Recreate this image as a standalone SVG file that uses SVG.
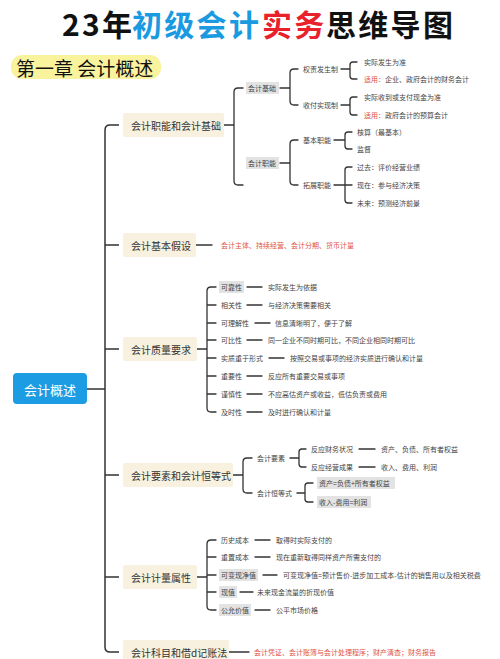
<svg xmlns="http://www.w3.org/2000/svg" width="500" height="659" viewBox="0 0 500 659">
<style>
text{font-family:"Noto Sans CJK SC","Noto Sans",sans-serif;dominant-baseline:central}
.tt{font-size:30px;font-weight:700;letter-spacing:2.3px;dominant-baseline:alphabetic}
.t1{font-size:10px;fill:#333}
.t2{font-size:7px;fill:#444}
.red{fill:#e0533f}
.box{fill:#f8f1df}
.hl{fill:#e3e3e3}
.ln{stroke:#333;stroke-width:1.3;fill:none;stroke-linecap:round}
.tr{stroke:#333;stroke-width:1.5;fill:none}
</style>
<rect width="500" height="659" fill="#fff"/>
<g id="title">
<text class="tt" x="62" y="36" fill="#111">23年</text>
<text class="tt" x="132" y="36" fill="#1a9ae0">初级会计</text>
<text class="tt" x="262" y="36" fill="#e8212a">实务</text>
<text class="tt" x="326" y="36" fill="#111">思维导图</text>
</g>
<g id="chapter">
<rect x="11" y="55" width="150" height="24" rx="11" fill="#faf39d"/>
<text x="16" y="67" font-size="19" fill="#111">第一章 会计概述</text>
</g>
<g id="connectors">
<path class="tr" d="M87 389H105M119 125H110Q105 125 105 130V647Q105 652 110 652H119M105 245H119M105 349H119M105 475H119M105 577H119"/>
<path class="ln" d="M224 125H234M243 88H238Q234 88 234 92V181Q234 185 238 185H243"/>
<path class="ln" d="M280 88H290M298 69H294Q290 69 290 73V101Q290 105 294 105H298"/>
<path class="ln" d="M341 69H350M357 62H353Q350 62 350 65V76Q350 79 353 79H357"/>
<path class="ln" d="M341 105H350M357 97H353Q350 97 350 100V112Q350 115 353 115H357"/>
<path class="ln" d="M280 163H290M298 140H294Q290 140 290 144V181Q290 185 294 185H298"/>
<path class="ln" d="M334 140H345M352 132H348Q345 132 345 135V146Q345 149 348 149H352"/>
<path class="ln" d="M334 185H352M352 167H348Q345 167 345 170V200Q345 203 348 203H352"/>
<path class="ln" d="M196 245H212"/>
<path class="ln" d="M197 349H207M216 287H211Q207 287 207 291V408Q207 412 211 412H216M207 305H216M207 323H216M207 340H216M207 358H216M207 376H216M207 394H216"/>
<path class="ln" d="M247 287H262M247 305H262M255 323H270M247 340H262M269 358H284M247 376H262M247 394H262M247 412H262"/>
<path class="ln" d="M233 475H243M252 458H247Q243 458 243 462V489Q243 493 247 493H252"/>
<path class="ln" d="M290 458H299M306 449H302Q299 449 299 452V464Q299 467 302 467H306M359 449H375M359 467H375"/>
<path class="ln" d="M297 493H305M313 483H308Q305 483 305 486V499Q305 502 308 502H313"/>
<path class="ln" d="M197 577H207M216 540H211Q207 540 207 544V606Q207 610 211 610H216M207 557H216M207 575H216M207 592H216"/>
<path class="ln" d="M255 540H270M255 557H270M263 575H277M240 592H253M255 610H270"/>
<path class="ln" d="M229 652H249"/>
</g>
<g id="root">
<rect x="13" y="373" width="74" height="31" rx="4" fill="#1c9ce2"/>
<text x="50" y="389" font-size="13" fill="#fff" text-anchor="middle">会计概述</text>
</g>
<g id="n1">
<rect class="box" x="123" y="113" width="101" height="24" rx="2"/>
<text class="t1" x="131" y="125">会计职能和会计基础</text>
</g>
<g id="n1-basis">
<rect class="hl" x="246" y="82" width="33" height="12"/>
<text class="t2" x="248" y="88">会计基础</text>
<text class="t2" x="303" y="69">权责发生制</text>
<text class="t2" x="364" y="62">实际发生为准</text>
<text class="t2" x="364" y="79"><tspan class="red">适用：</tspan>企业、政府会计的财务会计</text>
<text class="t2" x="303" y="105">收付实现制</text>
<text class="t2" x="364" y="97">实际收到或支付现金为准</text>
<text class="t2" x="364" y="115"><tspan class="red">适用：</tspan>政府会计的预算会计</text>
</g>
<g id="n1-func">
<rect class="hl" x="246" y="157" width="33" height="12"/>
<text class="t2" x="248" y="163">会计职能</text>
<text class="t2" x="303" y="140">基本职能</text>
<text class="t2" x="357" y="132">核算（最基本）</text>
<text class="t2" x="357" y="149">监督</text>
<text class="t2" x="303" y="185">拓展职能</text>
<text class="t2" x="357" y="167">过去：评价经营业绩</text>
<text class="t2" x="357" y="185">现在：参与经济决策</text>
<text class="t2" x="357" y="203">未来：预测经济前景</text>
</g>
<g id="n2">
<rect class="box" x="123" y="233" width="73" height="24" rx="2"/>
<text class="t1" x="131" y="245">会计基本假设</text>
<text class="t2 red" x="221" y="245">会计主体、持续经营、会计分期、货币计量</text>
</g>
<g id="n3">
<rect class="box" x="123" y="337" width="74" height="24" rx="2"/>
<text class="t1" x="131" y="349">会计质量要求</text>
<rect class="hl" x="219" y="281" width="25" height="12"/>
<text class="t2" x="221" y="287">可靠性</text><text class="t2" x="268" y="287">实际发生为依据</text>
<text class="t2" x="221" y="305">相关性</text><text class="t2" x="268" y="305">与经济决策需要相关</text>
<text class="t2" x="221" y="323">可理解性</text><text class="t2" x="275" y="323">信息清晰明了，便于了解</text>
<text class="t2" x="221" y="340">可比性</text><text class="t2" x="268" y="340">同一企业不同时期可比，不同企业相同时期可比</text>
<text class="t2" x="221" y="358">实质重于形式</text><text class="t2" x="290" y="358">按照交易或事项的经济实质进行确认和计量</text>
<text class="t2" x="221" y="376">重要性</text><text class="t2" x="268" y="376">反应所有重要交易或事项</text>
<text class="t2" x="221" y="394">谨慎性</text><text class="t2" x="268" y="394">不应高估资产或收益，低估负责或费用</text>
<text class="t2" x="221" y="412">及时性</text><text class="t2" x="268" y="412">及时进行确认和计量</text>
</g>
<g id="n4">
<rect class="box" x="123" y="463" width="110" height="24" rx="2"/>
<text class="t1" x="131" y="475">会计要素和会计恒等式</text>
<text class="t2" x="257" y="458">会计要素</text>
<text class="t2" x="311" y="449">反应财务状况</text><text class="t2" x="381" y="449">资产、负债、所有者权益</text>
<text class="t2" x="311" y="467">反应经营成果</text><text class="t2" x="381" y="467">收入、费用、利润</text>
<text class="t2" x="257" y="493">会计恒等式</text>
<rect class="hl" x="317" y="477" width="78" height="12"/>
<text class="t2" x="319" y="483">资产=负债+所有者权益</text>
<rect class="hl" x="317" y="496" width="54" height="12"/>
<text class="t2" x="319" y="502">收入-费用=利润</text>
</g>
<g id="n5">
<rect class="box" x="123" y="565" width="74" height="24" rx="2"/>
<text class="t1" x="131" y="577">会计计量属性</text>
<text class="t2" x="221" y="540">历史成本</text><text class="t2" x="276" y="540">取得时实际支付的</text>
<text class="t2" x="221" y="557">重置成本</text><text class="t2" x="276" y="557">现在重新取得同样资产所需支付的</text>
<rect class="hl" x="219" y="569" width="39" height="12"/>
<text class="t2" x="221" y="575">可变现净值</text><text class="t2" x="283" y="575">可变现净值=预计售价-进步加工成本-估计的销售用以及相关税费</text>
<rect class="hl" x="219" y="586" width="18" height="12"/>
<text class="t2" x="221" y="592">现值</text><text class="t2" x="257" y="592">未来现金流量的折现价值</text>
<rect class="hl" x="219" y="604" width="32" height="12"/>
<text class="t2" x="221" y="610">公允价值</text><text class="t2" x="276" y="610">公平市场价格</text>
</g>
<g id="n6">
<rect class="box" x="123" y="640" width="106" height="24" rx="2"/>
<text class="t1" x="131" y="652">会计科目和借d记账法</text>
<text class="t2 red" x="254" y="652">会计凭证、会计账簿与会计处理程序；财产清查；财务报告</text>
</g>
</svg>
